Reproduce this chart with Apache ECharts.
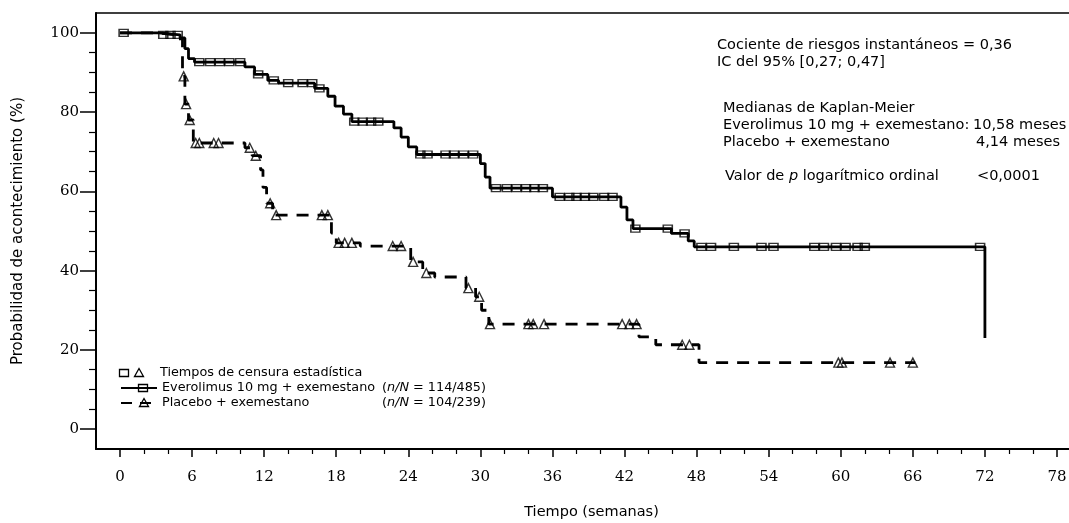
<!DOCTYPE html>
<html>
<head>
<meta charset="utf-8">
<script src="https://cdn.jsdelivr.net/npm/echarts@6/dist/echarts.min.js"></script>
<style>
  html, body { margin: 0; padding: 0; background: #fff; }
  #chart { width: 1069px; height: 523px; }
</style>
</head>
<body>
<div id="chart"></div>
<script>
// Kaplan-Meier estimates: week at which the estimate changes and the new value (%)
const everoWeeks = [0, 3.2, 5.0, 5.4, 5.7, 6.2, 10.4, 11.2, 12.3, 13.2, 16.2, 17.3, 17.9, 18.6, 19.3,
  22.8, 23.4, 24.0, 24.7, 30.0, 30.4, 30.8, 36.0, 41.7, 42.2, 42.7, 45.9, 47.3, 47.8, 72.0];
const everoSurv = [100, 99.5, 98.7, 96, 93.5, 92.6, 91.4, 89.5, 88, 87.3, 86, 84, 81.5, 79.5, 77.6,
  76, 73.7, 71.2, 69.3, 67, 63.6, 60.8, 58.6, 56, 52.8, 50.6, 49.4, 47.5, 46, 23];

const placeboWeeks = [0, 3.2, 4.6, 5.2, 5.4, 5.7, 6.1, 10.4, 11.0, 11.7, 11.9, 12.2, 12.7, 17.6, 18.0,
  20.0, 24.2, 25.2, 26.2, 28.8, 29.6, 30.1, 30.7, 43.2, 44.6, 48.2, 66.2];
const placeboSurv = [100, 99.5, 98.5, 89, 82, 78, 72.2, 71, 69, 65.4, 61, 57, 54, 49.5, 47,
  46.2, 42.2, 39.4, 38.4, 35.6, 33.4, 30, 26.5, 23.3, 21.3, 16.8, 16.8];

// Censoring times (weeks)
const everoCensorWeeks = [0.3, 3.6, 4.2, 4.8, 6.6, 7.5, 8.3, 9.1, 10.0, 11.5, 12.8, 14.0, 15.2, 16.0,
  16.6, 19.5, 20.2, 20.9, 21.5, 25.0, 25.6, 27.1, 27.8, 28.6, 29.4, 31.3, 32.2, 33.0, 33.8, 34.5,
  35.2, 36.6, 37.4, 38.0, 38.7, 39.4, 40.3, 41.0, 42.9, 45.6, 47.0, 48.4, 49.2, 51.1, 53.4, 54.4,
  57.8, 58.6, 59.6, 60.4, 61.4, 62.0, 71.6];
const placeboCensorWeeks = [5.3, 5.5, 5.8, 6.3, 6.6, 7.8, 8.2, 10.8, 11.3, 12.5, 13.0, 16.8, 17.3,
  18.2, 18.7, 19.3, 22.7, 23.4, 24.4, 25.5, 29.0, 29.9, 30.8, 34.0, 34.4, 35.3, 41.8, 42.4, 43.0,
  46.8, 47.4, 59.8, 60.1, 64.1, 66.0];

// Axis ticks
const xTickLabels = [0, 6, 12, 18, 24, 30, 36, 42, 48, 54, 60, 66, 72, 78];
const xMinorTicks = [2, 4, 8, 10, 14, 16, 20, 22, 26, 28, 32, 34, 38, 40, 44, 46, 50, 52, 56, 58, 62, 64, 68, 70, 74, 76];
const yTickLabels = [0, 20, 40, 60, 80, 100];
const yMinorTicks = [5, 10, 15, 25, 30, 35, 45, 50, 55, 65, 70, 75, 85, 90, 95];

function survivalAt(weeks, surv, t) {
  let s = surv[0];
  for (let i = 0; i < weeks.length; i++) if (weeks[i] <= t) s = surv[i];
  return s;
}

const everoLine = everoWeeks.map((w, i) => [w, everoSurv[i]]);
const placeboLine = placeboWeeks.map((w, i) => [w, placeboSurv[i]]);
const everoCensor = everoCensorWeeks.map(w => [w, survivalAt(everoWeeks, everoSurv, w)]);
const placeboCensor = placeboCensorWeeks.map(w => [w, survivalAt(placeboWeeks, placeboSurv, w)]);

const SANS = 'DejaVu Sans';
const SERIF = 'DejaVu Serif';
const tickFont = { fontFamily: SERIF, fontSize: 15, color: '#000' };

const chart = echarts.init(document.getElementById('chart'), null, { renderer: 'canvas' });

function txt(x, y, text, size, extra) {
  return {
    type: 'text', x: x, y: y,
    style: Object.assign({ text: text, fontFamily: SANS, fontSize: size, fill: '#000',
      align: 'left', verticalAlign: 'middle' }, extra || {})
  };
}
function richTxt(x, y, text, size) {
  return txt(x, y, text, size, {
    rich: {
      r: { fontFamily: SANS, fontSize: size, fill: '#000' },
      i: { fontFamily: SANS, fontSize: size, fontStyle: 'italic', fill: '#000' }
    }
  });
}
function square(cx, cy) {
  return { type: 'rect', shape: { x: cx - 4.5, y: cy - 3.5, width: 9, height: 7 },
    style: { fill: 'none', stroke: '#000', lineWidth: 1.3 } };
}
function tri(cx, cy) {
  return { type: 'polygon', shape: { points: [[cx, cy - 4.5], [cx + 4.5, cy + 3.5], [cx - 4.5, cy + 3.5]] },
    style: { fill: 'none', stroke: '#000', lineWidth: 1.3 } };
}

const option = {
  animation: false,
  backgroundColor: '#fff',
  grid: { left: 96, right: 0, top: 13, bottom: 74, containLabel: false, outerBoundsMode: 'none' },
  xAxis: [
    {
      type: 'value', min: -2, max: 79, position: 'bottom',
      name: 'Tiempo (semanas)', nameLocation: 'middle', nameGap: 56,
      nameTextStyle: { fontFamily: SANS, fontSize: 14.5, color: '#000', padding: [0, 0, 0, 18] },
      axisLine: { show: true, onZero: false, lineStyle: { color: '#000', width: 2 } },
      axisTick: { show: true, customValues: xTickLabels, length: 8, lineStyle: { color: '#000', width: 1.5 } },
      axisLabel: Object.assign({ show: true, customValues: xTickLabels, margin: 21 }, tickFont),
      splitLine: { show: false }
    },
    {
      type: 'value', min: -2, max: 79, position: 'bottom',
      axisLine: { show: false, onZero: false },
      axisTick: { show: true, customValues: xMinorTicks, length: 5, lineStyle: { color: '#000', width: 1.2 } },
      axisLabel: { show: false },
      splitLine: { show: false }
    },
    {
      type: 'value', min: -2, max: 79, position: 'top',
      axisLine: { show: true, onZero: false, lineStyle: { color: '#000', width: 1.5 } },
      axisTick: { show: false }, axisLabel: { show: false }, splitLine: { show: false }
    }
  ],
  yAxis: [
    {
      type: 'value', min: -5, max: 105, position: 'left',
      name: 'Probabilidad de acontecimiento (%)', nameLocation: 'middle', nameGap: 70, nameRotate: 90,
      nameTextStyle: { fontFamily: SANS, fontSize: 15, color: '#000' },
      axisLine: { show: true, onZero: false, lineStyle: { color: '#000', width: 2 } },
      axisTick: { show: true, customValues: yTickLabels, length: 16, lineStyle: { color: '#000', width: 1.5 } },
      axisLabel: Object.assign({ show: true, customValues: yTickLabels, margin: 17 }, tickFont),
      splitLine: { show: false }
    },
    {
      type: 'value', min: -5, max: 105, position: 'left',
      axisLine: { show: false, onZero: false },
      axisTick: { show: true, customValues: yMinorTicks, length: 7, lineStyle: { color: '#000', width: 1.2 } },
      axisLabel: { show: false },
      splitLine: { show: false }
    }
  ],
  series: [
    {
      name: 'Everolimus 10 mg + exemestano', type: 'line', step: 'end', data: everoLine,
      symbol: 'none', lineStyle: { color: '#000', width: 2.8 }, z: 3
    },
    {
      name: 'Placebo + exemestano', type: 'line', step: 'end', data: placeboLine,
      symbol: 'none', lineStyle: { color: '#000', width: 2.8, type: [12, 9] }, z: 2
    },
    {
      name: 'Censura everolimus', type: 'scatter', data: everoCensor,
      symbol: 'rect', symbolSize: [9, 7],
      itemStyle: { color: 'rgba(0,0,0,0)', borderColor: '#000', borderWidth: 1.4 }, z: 4
    },
    {
      name: 'Censura placebo', type: 'scatter', data: placeboCensor,
      symbol: 'triangle', symbolSize: 9,
      itemStyle: { color: 'rgba(0,0,0,0)', borderColor: '#000', borderWidth: 1.4 }, z: 4
    }
  ],
  graphic: [
    // statistics box
    txt(717, 45, 'Cociente de riesgos instantáneos = 0,36', 14.5),
    txt(717, 62, 'IC del 95% [0,27; 0,47]', 14.5),
    txt(723, 108, 'Medianas de Kaplan-Meier', 14.5),
    txt(723, 125, 'Everolimus 10 mg + exemestano:', 14.5),
    txt(973, 125, '10,58 meses', 14.5),
    txt(723, 142, 'Placebo + exemestano', 14.5),
    txt(976, 142, '4,14 meses', 14.5),
    richTxt(725, 176, '{r|Valor de }{i|p}{r| logarítmico ordinal}', 14.5),
    txt(977, 176, '<0,0001', 14.5),
    // legend
    square(124, 373), tri(139, 373),
    txt(160, 373, 'Tiempos de censura estadística', 12.8),
    { type: 'line', shape: { x1: 121, y1: 388, x2: 157, y2: 388 }, style: { stroke: '#000', lineWidth: 2 } },
    square(143, 388),
    txt(162, 388, 'Everolimus 10 mg + exemestano', 12.8),
    richTxt(382, 388, '{r|(}{i|n/N}{r| = 114/485)}', 12.8),
    { type: 'line', shape: { x1: 121, y1: 403, x2: 157, y2: 403 }, style: { stroke: '#000', lineWidth: 2, lineDash: [11, 8] } },
    tri(144, 403),
    txt(162, 403, 'Placebo + exemestano', 12.8),
    richTxt(382, 403, '{r|(}{i|n/N}{r| = 104/239)}', 12.8)
  ]
};

chart.setOption(option);
</script>
</body>
</html>
